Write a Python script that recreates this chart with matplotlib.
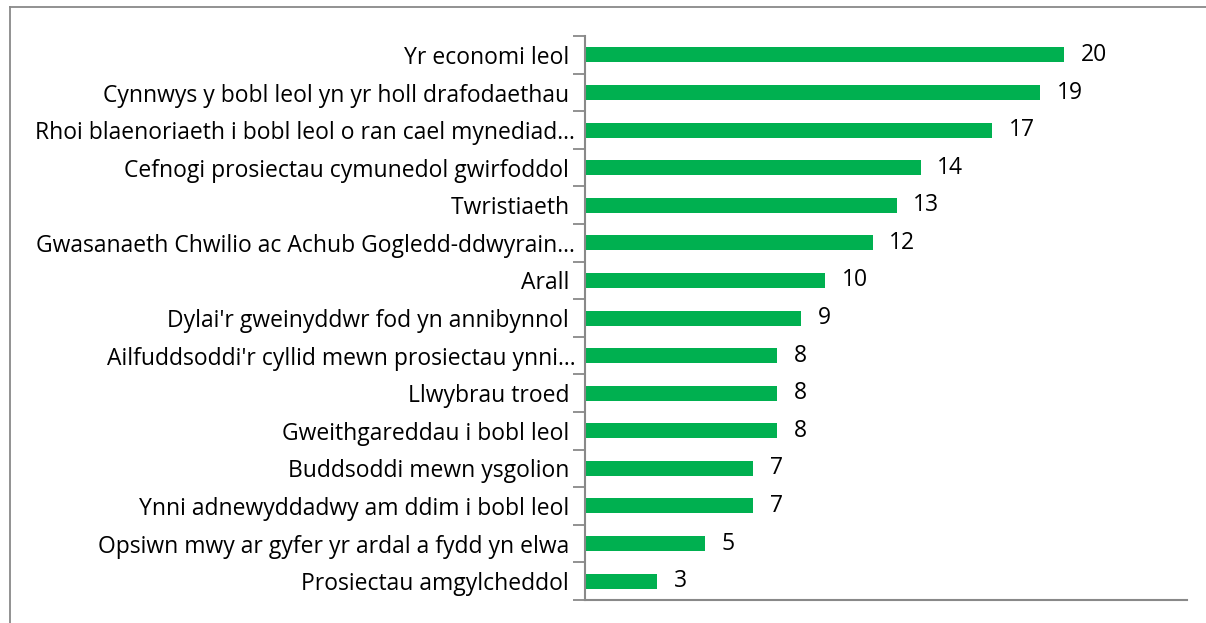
import numpy as np
import matplotlib
matplotlib.use('Agg')
import matplotlib.pyplot as plt
import matplotlib.ticker as ticker
from matplotlib.lines import Line2D

# data, top to bottom as in the chart (trailing spaces as in the source labels)
labels = [
    'Yr economi leol ',
    'Cynnwys y bobl leol yn yr holl drafodaethau ',
    'Rhoi blaenoriaeth i bobl leol o ran cael mynediad…',
    'Cefnogi prosiectau cymunedol gwirfoddol ',
    'Twristiaeth ',
    'Gwasanaeth Chwilio ac Achub Gogledd-ddwyrain…',
    'Arall ',
    "Dylai'r gweinyddwr fod yn annibynnol ",
    "Ailfuddsoddi'r cyllid mewn prosiectau ynni…",
    'Llwybrau troed ',
    'Gweithgareddau i bobl leol ',
    'Buddsoddi mewn ysgolion ',
    'Ynni adnewyddadwy am ddim i bobl leol ',
    'Opsiwn mwy ar gyfer yr ardal a fydd yn elwa ',
    'Prosiectau amgylcheddol ',
]
values = [20, 19, 17, 14, 13, 12, 10, 9, 8, 8, 8, 7, 7, 5, 3]

plt.rcParams['font.family'] = ['Open Sans', 'DejaVu Sans']
axis_grey = '#898989'
fsize = 16.5

fig = plt.figure(figsize=(12.06, 6.23), dpi=100)
ax = fig.add_axes([0.485, 0.037, 0.499, 0.905])

y = np.arange(len(labels))
ax.barh(y, values, height=0.4, color='#00B050')
ax.set_ylim(len(labels) - 0.5, -0.5)
ax.set_xlim(0, 25.1)

for yi, v in zip(y, values):
    ax.text(v + 0.7, yi, str(v), va='center', ha='left', fontsize=fsize, color='black')

ax.set_yticks(y)
ax.set_yticklabels(labels, fontsize=fsize)
ax.yaxis.set_minor_locator(ticker.FixedLocator(np.arange(-0.5, len(labels), 1)))
ax.tick_params(axis='y', which='major', length=0, pad=7)
ax.tick_params(axis='y', which='minor', length=9, width=1.3, color=axis_grey, direction='out')
ax.set_xticks([])

for s in ['top', 'right']:
    ax.spines[s].set_visible(False)
for s in ['left', 'bottom']:
    ax.spines[s].set_color(axis_grey)
    ax.spines[s].set_linewidth(1.5)

# outer chart border (top and left edges visible)
fig.add_artist(Line2D([10 / 1206, 10 / 1206], [0, 1 - 7 / 623], transform=fig.transFigure,
                      color=axis_grey, lw=1.3))
fig.add_artist(Line2D([10 / 1206, 1], [1 - 7 / 623, 1 - 7 / 623], transform=fig.transFigure,
                      color=axis_grey, lw=1.3))

fig.savefig('out.png', dpi=100)
